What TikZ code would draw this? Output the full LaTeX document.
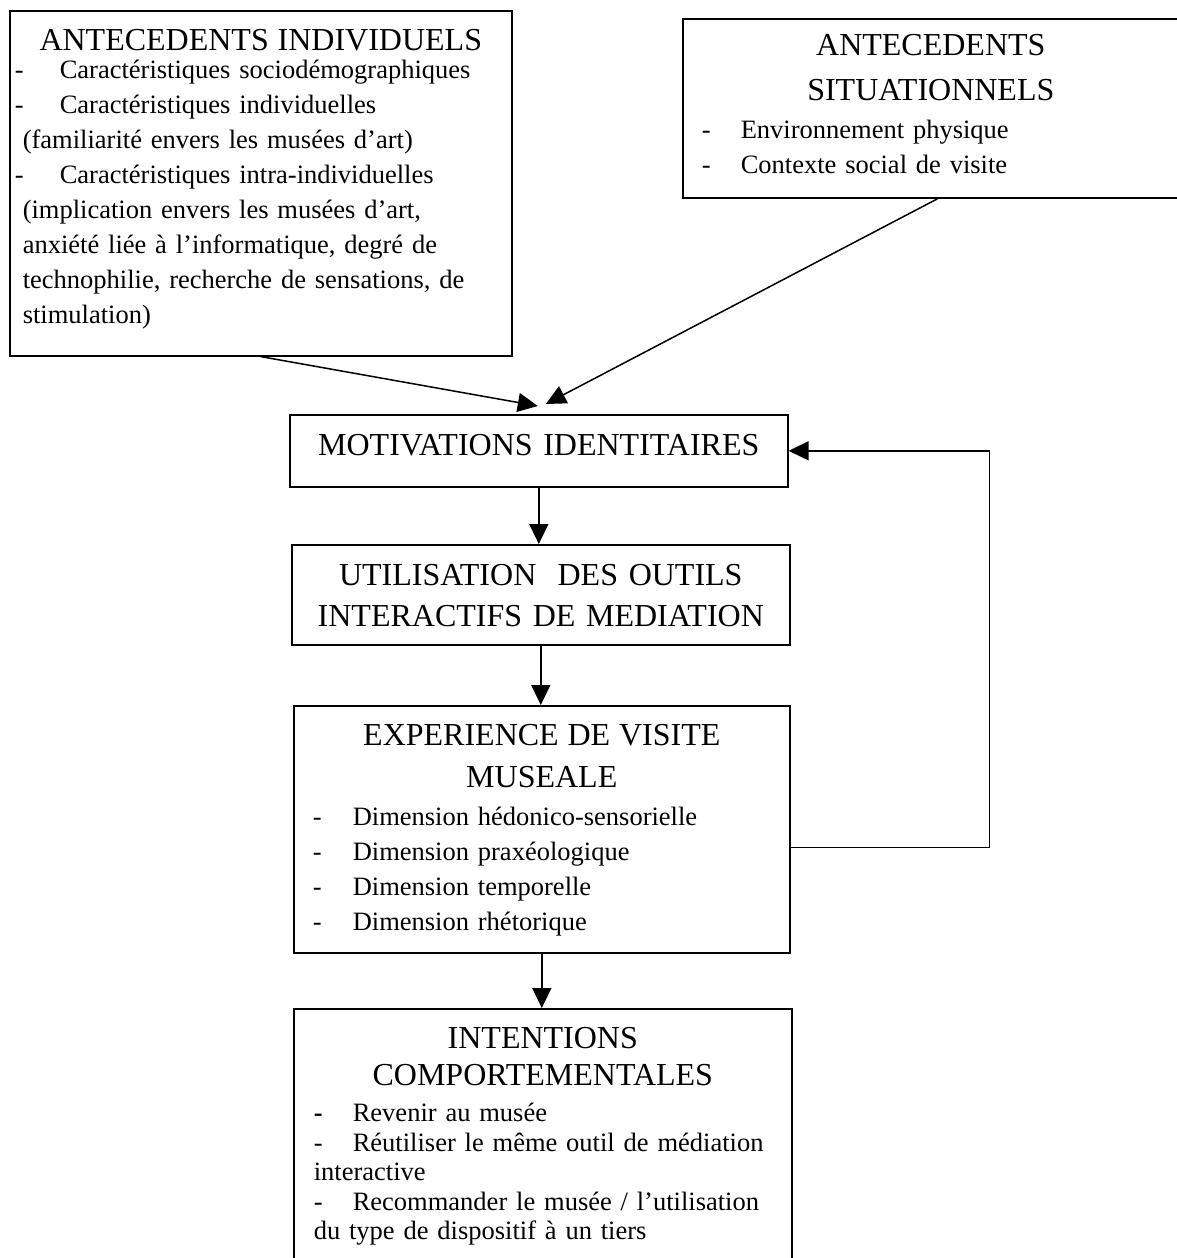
\documentclass[tikz,border=0pt]{standalone}
\usepackage{fontspec}
\setmainfont{Liberation Serif}
\usetikzlibrary{arrows.meta}
\newcommand{\titre}{\fontsize{32}{41}\selectfont}
\newcommand{\liste}{\fontsize{26.5}{35}\selectfont}
\newcommand{\entete}[1]{\makebox[\linewidth][c]{\titre #1}}
\newcommand{\tiret}[2]{\makebox[#1][l]{-}#2}

\begin{document}
\begin{tikzpicture}[x=1pt,y=-1pt,>={Triangle[length=20pt,width=19pt]},
        boite/.style={draw,line width=1.6pt,anchor=north west,inner ysep=0pt,align=left},
        fleche/.style={->,line width=1.5pt}]
        \useasboundingbox (0,0) rectangle (1177,1258);
        \node[boite,inner xsep=5pt,text width=492pt,text height=40pt,text depth=305pt,font=\liste] (indiv) at (9,10)
            {\entete{ANTECEDENTS INDIVIDUELS}\\[-7pt]
             \tiret{45pt}{Caractéristiques sociodémographiques}\\
             \tiret{45pt}{Caractéristiques individuelles}\\
             \hspace*{8pt}(familiarité envers les musées d’art)\\
             \tiret{45pt}{Caractéristiques intra-individuelles}\\
             \hspace*{8pt}(implication envers les musées d’art,\\
             \hspace*{8pt}anxiété liée à l’informatique, degré de\\
             \hspace*{8pt}technophilie, recherche de sensations, de\\
             \hspace*{8pt}stimulation)};
        \node[boite,inner xsep=19pt,text width=458pt,text height=37pt,text depth=142pt,font=\liste] (situ) at (682,18)
            {\entete{ANTECEDENTS}\\[10pt]
             \entete{SITUATIONNELS}\\[3pt]
             \tiret{39pt}{Environnement physique}\\
             \tiret{39pt}{Contexte social de visite}};
        \node[boite,inner xsep=10pt,text width=478pt,text height=41pt,text depth=31pt,align=center,font=\titre] (motiv) at (289,414)
            {MOTIVATIONS IDENTITAIRES};
        \node[boite,inner xsep=10pt,text width=478pt,text height=41pt,text depth=59pt,align=center,font=\titre] (util) at (291,544)
            {UTILISATION\ \ DES OUTILS\\INTERACTIFS DE MEDIATION};
        \node[boite,inner xsep=19pt,text width=458pt,text height=40pt,text depth=207pt,font=\liste] (exper) at (293,705)
            {\entete{EXPERIENCE DE VISITE}\\[7pt]
             \entete{MUSEALE}\\[3pt]
             \tiret{40pt}{Dimension hédonico-sensorielle}\\
             \tiret{40pt}{Dimension praxéologique}\\
             \tiret{40pt}{Dimension temporelle}\\
             \tiret{40pt}{Dimension rhétorique}};
        \node[boite,inner xsep=20pt,text width=458pt,text height=40pt,text depth=212pt,font=\fontsize{26.5}{29.5}\selectfont] (intent) at (293,1008)
            {\entete{INTENTIONS}\\[7.5pt]
             \entete{COMPORTEMENTALES}\\[6.5pt]
             \makebox[39pt][l]{\bfseries -}Revenir au musée\\
             \makebox[\linewidth][s]{\tiret{39pt}{Réutiliser le même outil de médiation}}\\
             interactive\\
             \makebox[\linewidth][s]{\tiret{39pt}{Recommander le musée / l’utilisation}}\\
             du type de dispositif à un tiers};
        \draw[fleche] (indiv.south) -- ([xshift=-1pt,yshift=8pt]motiv.north);
        \draw[fleche] ([xshift=7pt]situ.south) -- ([xshift=7pt,yshift=10pt]motiv.north);
        \draw[fleche] (motiv.south) -- (motiv.south |- util.north);
        \draw[fleche] (util.south) -- (util.south |- exper.north);
        \draw[fleche] (exper.south) -- (exper.south |- intent.north);
        \draw[fleche] ([yshift=-18pt]exper.east) -- ++(199,0) |- (motiv.east);
    \end{tikzpicture}
\end{document}
